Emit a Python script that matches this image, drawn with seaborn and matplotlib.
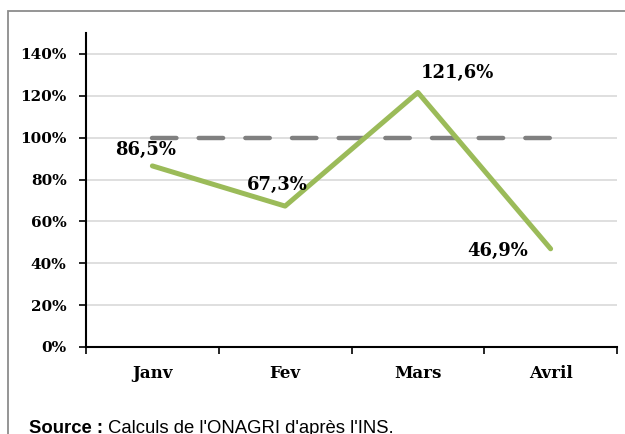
import pandas as pd
import seaborn as sns
import matplotlib.pyplot as plt
from matplotlib.patches import Rectangle
from matplotlib.ticker import FixedLocator, FuncFormatter

# Donnees
mois = ['Janv', 'Fev', 'Mars', 'Avril']
taux = [86.5, 67.3, 121.6, 46.9]
reference = [100, 100, 100, 100]
etiquettes = ['86,5%', '67,3%', '121,6%', '46,9%']
y_ticks = [0, 20, 40, 60, 80, 100, 120, 140]

data = pd.DataFrame({'Mois': mois, 'Taux': taux, 'Reference': reference})
data['Pos'] = range(len(mois))

sns.set_style('white')
plt.rcParams['font.family'] = ['DejaVu Serif']
plt.rcParams['text.color'] = 'black'
plt.rcParams['xtick.color'] = 'black'
plt.rcParams['ytick.color'] = 'black'

fig = plt.figure(figsize=(6.25, 4.34), dpi=100)
ax = fig.add_axes([0.1376, 0.2005, 0.8496, 0.7235])

# Cadre exterieur
fig.patches.append(Rectangle((8 / 625, -0.1), 1.0, 1.1 - 11 / 434,
                             transform=fig.transFigure, fill=False,
                             edgecolor='#8c8c8c', linewidth=1.3))

# Ligne 100%
sns.lineplot(x='Pos', y='Reference', data=data, ax=ax, color='#808080',
             linewidth=3.2, zorder=2)
ax.lines[-1].set_dashes([5.5, 5])
ax.lines[-1].set_dash_capstyle('round')

# Courbe
sns.lineplot(x='Pos', y='Taux', data=data, ax=ax, color='#9BBB59',
             linewidth=3.6, zorder=3)
ax.lines[-1].set_solid_capstyle('round')

# Etiquettes
decal = [(-7, 16), (-8, 21), (40, 19), (-53, -2)]
for i, (v, t) in enumerate(zip(taux, etiquettes)):
    ax.annotate(t, (i, v), xytext=decal[i], textcoords='offset pixels',
                ha='center', va='center', fontsize=13, fontweight='bold',
                color='black')

ax.set_xlim(-0.5, 3.5)
ax.set_ylim(0, 150)

ax.set_yticks(y_ticks)
ax.yaxis.set_major_formatter(FuncFormatter(lambda v, p: f'{v:.0f}%'))
ax.grid(axis='y', color='#d9d9d9', linewidth=1.2)
ax.set_axisbelow(True)

ax.set_xticks(range(len(mois)))
ax.set_xticklabels(mois)
ax.xaxis.set_minor_locator(FixedLocator([-0.5, 0.5, 1.5, 2.5, 3.5]))
ax.tick_params(axis='x', which='major', length=0, pad=13)
ax.tick_params(axis='x', which='minor', length=5, width=1.2, direction='out', bottom=True)
ax.tick_params(axis='y', length=5, width=1.2, direction='out', left=True, pad=9)

for lab in ax.get_yticklabels():
    lab.set_fontweight('bold')
    lab.set_fontsize(11)
for lab in ax.get_xticklabels():
    lab.set_fontweight('bold')
    lab.set_fontsize(12)

for s in ['top', 'right']:
    ax.spines[s].set_visible(False)
for s in ['left', 'bottom']:
    ax.spines[s].set_color('black')
    ax.spines[s].set_linewidth(1.5)

ax.set_xlabel('')
ax.set_ylabel('')

fig.text(29 / 625, 1 / 434, 'Source :', family='Liberation Sans',
         fontweight='bold', fontsize=13.3, va='baseline')
fig.text(108 / 625, 1 / 434, "Calculs de l'ONAGRI d'après l'INS.",
         family='Liberation Sans', fontsize=13.3, va='baseline')

plt.savefig('out.png', dpi=100)
